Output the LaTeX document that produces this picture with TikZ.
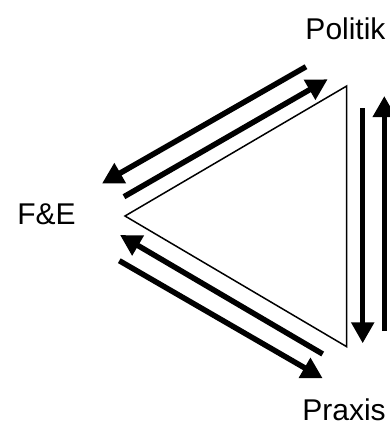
\documentclass[tikz,border=0pt]{standalone}
\usepackage{fontspec}
\setmainfont{Liberation Sans}
\usetikzlibrary{arrows.meta}
\begin{document}
\begin{tikzpicture}[x=1pt,y=-1pt,
  lbl/.style={font=\fontsize{30}{32}\selectfont, anchor=base, inner sep=0pt},
  flow/.style={line width=5.5pt, -{Triangle[length=21pt,width=22pt]}},
  tri/.style={line width=1.5pt, line join=miter}]
\useasboundingbox (0,0) rectangle (390,426);
% labels
\node[lbl] (pol) at (345.5,39.3) {Politik};
\node[lbl] (fe) at (46.5,224.3) {F\&E};
\node[lbl] (pra) at (344,420) {Praxis};
% triangle
\coordinate (tT) at (346.7,86);
\coordinate (tL) at (125,216);
\coordinate (tB) at (346.7,346.7);
\draw[tri] (tT) -- (tL) -- (tB) -- cycle;
% arrow end points
\coordinate (a1s) at (306,66.7);
\coordinate (a1e) at (102,183.5);
\coordinate (a2s) at (124,196.7);
\coordinate (a2e) at (327.7,79.3);
\coordinate (a3s) at (362.7,108.3);
\coordinate (a3e) at (362.7,343.3);
\coordinate (a4s) at (384.3,331);
\coordinate (a4e) at (384.3,96);
\coordinate (a5s) at (322.7,354);
\coordinate (a5e) at (120,235);
\coordinate (a6s) at (119.3,260.7);
\coordinate (a6e) at (322.7,378.3);
\draw[flow] (a1s) -- (a1e);
\draw[flow] (a2s) -- (a2e);
\draw[flow] (a3s) -- (a3e);
\draw[flow] (a4s) -- (a4e);
\draw[flow] (a5s) -- (a5e);
\draw[flow] (a6s) -- (a6e);
\end{tikzpicture}
\end{document}
